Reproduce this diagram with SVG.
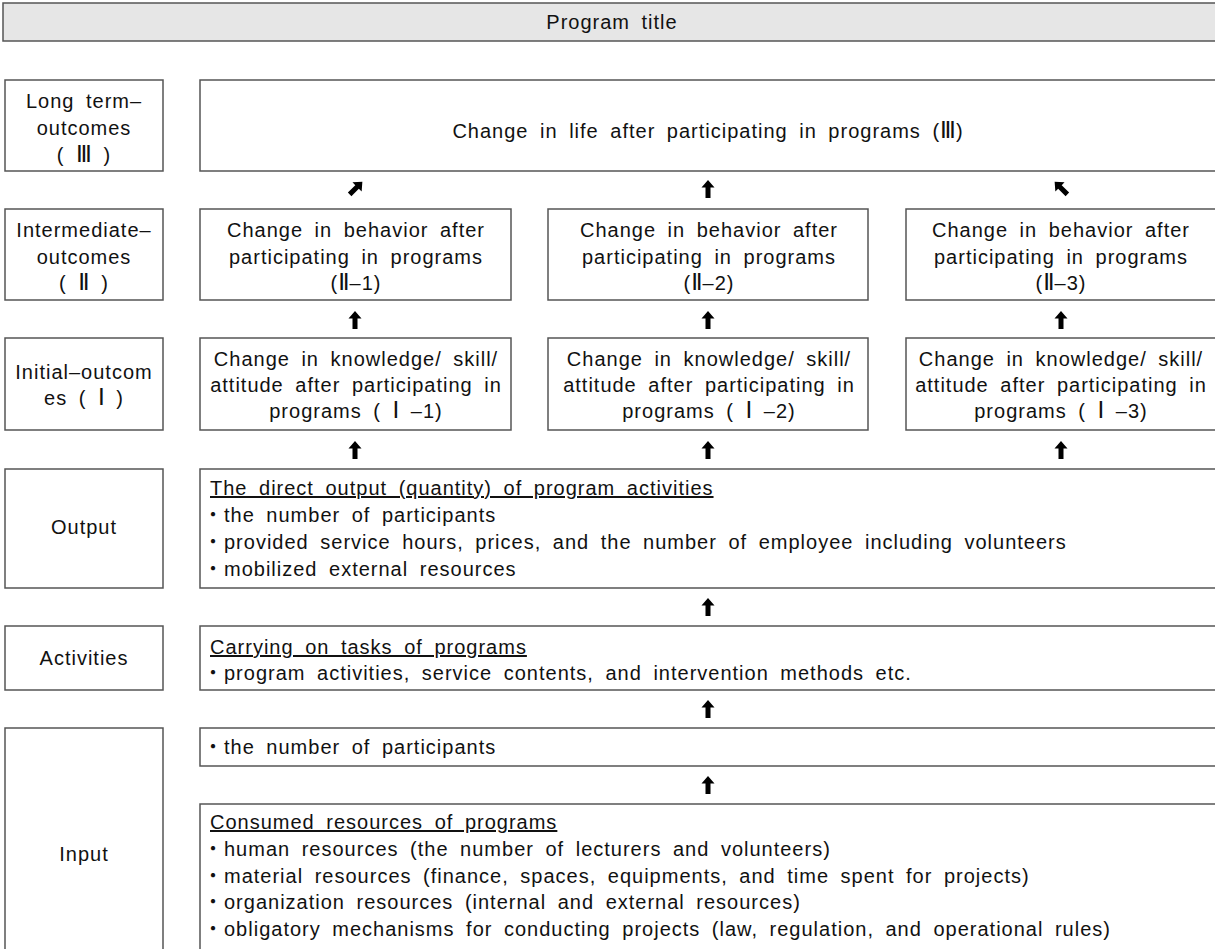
<svg xmlns="http://www.w3.org/2000/svg" width="1215" height="949" viewBox="0 0 1215 949">
<style>
.box{fill:#fff;stroke:#555;stroke-width:1.5}
.title{fill:#e6e6e6;stroke:#555;stroke-width:1.5}
.t{font-family:"Liberation Sans","Noto Sans CJK KR",sans-serif;font-size:20px;fill:#111;letter-spacing:1px;word-spacing:5px}
.c{text-anchor:middle}
.u{text-decoration:underline}
.n{font-family:"DejaVu Sans","Noto Sans CJK KR",sans-serif;font-size:23px;letter-spacing:0;fill:#111}
.arr{fill:#000}
</style>
<defs>
<path id="up" d="M0,-9 L6.5,-1.5 L2.5,-1.5 L2.5,9 L-2.5,9 L-2.5,-1.5 L-6.5,-1.5 Z"/>
</defs>
<rect width="1215" height="949" fill="#fff"/>

<g id="title">
<rect class="title" x="3" y="3" width="1220" height="38"/>
<text class="t c" x="612" y="29">Program title</text>
</g>

<g id="label-longterm">
<rect class="box" x="5" y="80" width="158" height="91"/>
<text class="t c" x="84" y="108">Long term–</text>
<text class="t c" x="84" y="135">outcomes</text>
<text class="t c" x="84" y="162">( <tspan class="n">Ⅲ</tspan> )</text>
</g>
<g id="longterm">
<rect class="box" x="200" y="80" width="1020" height="91"/>
<text class="t c" x="708" y="138">Change in life after participating in programs (<tspan class="n">Ⅲ</tspan>)</text>
</g>

<g id="label-intermediate">
<rect class="box" x="5" y="209" width="158" height="91"/>
<text class="t c" x="84" y="237">Intermediate–</text>
<text class="t c" x="84" y="264">outcomes</text>
<text class="t c" x="84" y="290">( <tspan class="n">Ⅱ</tspan> )</text>
</g>
<g id="intermediate-1">
<rect class="box" x="200" y="209" width="311" height="91"/>
<text class="t c" x="356" y="237">Change in behavior after</text>
<text class="t c" x="356" y="264">participating in programs</text>
<text class="t c" x="356" y="290">(<tspan class="n">Ⅱ</tspan>–1)</text>
</g>
<g id="intermediate-2">
<rect class="box" x="548" y="209" width="320" height="91"/>
<text class="t c" x="709" y="237">Change in behavior after</text>
<text class="t c" x="709" y="264">participating in programs</text>
<text class="t c" x="709" y="290">(<tspan class="n">Ⅱ</tspan>–2)</text>
</g>
<g id="intermediate-3">
<rect class="box" x="906" y="209" width="312" height="91"/>
<text class="t c" x="1061" y="237">Change in behavior after</text>
<text class="t c" x="1061" y="264">participating in programs</text>
<text class="t c" x="1061" y="290">(<tspan class="n">Ⅱ</tspan>–3)</text>
</g>

<g id="label-initial">
<rect class="box" x="5" y="338" width="158" height="92"/>
<text class="t c" x="84" y="379">Initial–outcom</text>
<text class="t c" x="84" y="405">es ( <tspan class="n">Ⅰ</tspan> )</text>
</g>
<g id="initial-1">
<rect class="box" x="200" y="338" width="311" height="92"/>
<text class="t c" x="356" y="366">Change in knowledge/ skill/</text>
<text class="t c" x="356" y="392">attitude after participating in</text>
<text class="t c" x="356" y="418">programs ( <tspan class="n">Ⅰ</tspan> –1)</text>
</g>
<g id="initial-2">
<rect class="box" x="548" y="338" width="320" height="92"/>
<text class="t c" x="709" y="366">Change in knowledge/ skill/</text>
<text class="t c" x="709" y="392">attitude after participating in</text>
<text class="t c" x="709" y="418">programs ( <tspan class="n">Ⅰ</tspan> –2)</text>
</g>
<g id="initial-3">
<rect class="box" x="906" y="338" width="312" height="92"/>
<text class="t c" x="1061" y="366">Change in knowledge/ skill/</text>
<text class="t c" x="1061" y="392">attitude after participating in</text>
<text class="t c" x="1061" y="418">programs ( <tspan class="n">Ⅰ</tspan> –3)</text>
</g>

<g id="label-output">
<rect class="box" x="5" y="469" width="158" height="119"/>
<text class="t c" x="84" y="534">Output</text>
</g>
<g id="output">
<rect class="box" x="200" y="469" width="1020" height="119"/>
<text class="t u" x="210" y="495">The direct output (quantity) of program activities</text>
<text class="t" x="203" y="522">・the number of participants</text>
<text class="t" x="203" y="549">・provided service hours, prices, and the number of employee including volunteers</text>
<text class="t" x="203" y="576">・mobilized external resources</text>
</g>

<g id="label-activities">
<rect class="box" x="5" y="626" width="158" height="64"/>
<text class="t c" x="84" y="665">Activities</text>
</g>
<g id="activities">
<rect class="box" x="200" y="626" width="1020" height="64"/>
<text class="t u" x="210" y="654">Carrying on tasks of programs</text>
<text class="t" x="203" y="680">・program activities, service contents, and intervention methods etc.</text>
</g>

<g id="label-input">
<rect class="box" x="5" y="728" width="158" height="240"/>
<text class="t c" x="84" y="861">Input</text>
</g>
<g id="input-participants">
<rect class="box" x="200" y="728" width="1020" height="38"/>
<text class="t" x="203" y="754">・the number of participants</text>
</g>
<g id="input-resources">
<rect class="box" x="200" y="804" width="1020" height="164"/>
<text class="t u" x="210" y="829">Consumed resources of programs</text>
<text class="t" x="203" y="856">・human resources (the number of lecturers and volunteers)</text>
<text class="t" x="203" y="883">・material resources (finance, spaces, equipments, and time spent for projects)</text>
<text class="t" x="203" y="909">・organization resources (internal and external resources)</text>
<text class="t" x="203" y="936">・obligatory mechanisms for conducting projects (law, regulation, and operational rules)</text>
</g>

<g id="connectors" class="arr">
<use href="#up" transform="translate(356,188) rotate(45)"/>
<use href="#up" transform="translate(708,189)"/>
<use href="#up" transform="translate(1061,188) rotate(-45)"/>
<use href="#up" transform="translate(355,320)"/>
<use href="#up" transform="translate(708,320)"/>
<use href="#up" transform="translate(1061,320)"/>
<use href="#up" transform="translate(355,450)"/>
<use href="#up" transform="translate(708,450)"/>
<use href="#up" transform="translate(1061,450)"/>
<use href="#up" transform="translate(708,607)"/>
<use href="#up" transform="translate(708,709)"/>
<use href="#up" transform="translate(708,785)"/>
</g>
</svg>
